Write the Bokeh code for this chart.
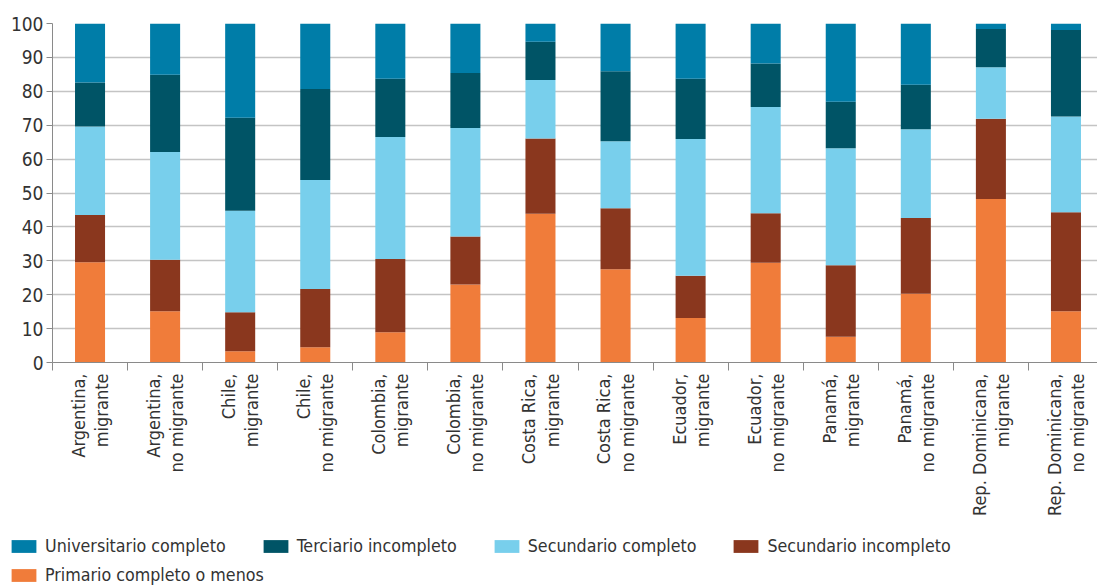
import math
from bokeh.plotting import figure
from bokeh.layouts import column, row
from bokeh.models import ColumnDataSource, FixedTicker, Legend, LegendItem, Range1d
from bokeh.embed import file_html
from bokeh.resources import INLINE

categories = [
    "Argentina,\nmigrante", "Argentina,\nno migrante",
    "Chile,\nmigrante", "Chile,\nno migrante",
    "Colombia,\nmigrante", "Colombia,\nno migrante",
    "Costa Rica,\nmigrante", "Costa Rica,\nno migrante",
    "Ecuador,\nmigrante", "Ecuador,\nno migrante",
    "Panamá,\nmigrante", "Panamá,\nno migrante",
    "Rep. Dominicana,\nmigrante", "Rep. Dominicana,\nno migrante",
]

primario = [29.6, 15.1, 3.3, 4.5, 8.9, 23.0, 43.9, 27.5, 13.1, 29.4, 7.6, 20.3, 48.2, 15.1]
secundario_incompleto = [13.9, 15.2, 11.5, 17.2, 21.6, 14.2, 22.2, 18.0, 12.5, 14.6, 21.1, 22.3, 23.7, 29.2]
secundario_completo = [26.1, 31.8, 30.0, 32.1, 36.0, 32.0, 17.2, 19.8, 40.3, 31.4, 34.5, 26.2, 15.2, 28.3]
terciario_incompleto = [13.0, 22.8, 27.4, 26.9, 17.2, 16.2, 11.3, 20.6, 17.8, 12.8, 13.7, 13.1, 11.3, 25.5]
universitario = [17.4, 15.1, 27.8, 19.3, 16.3, 14.6, 5.4, 14.1, 16.3, 11.8, 23.1, 18.1, 1.6, 1.9]

series_names = ["Primario completo o menos", "Secundario incompleto", "Secundario completo",
                "Terciario incompleto", "Universitario completo"]
series_keys = ["prim", "secinc", "seccom", "terinc", "univ"]
colors = ["#F07C3A", "#8A371E", "#78CFEC", "#005466", "#007DA8"]

FONT = "DejaVu Sans Condensed"
TEXT = "#333333"

xpos = [i + 0.5 for i in range(len(categories))]
source = ColumnDataSource(dict(x=xpos, prim=primario, secinc=secundario_incompleto,
                               seccom=secundario_completo, terinc=terciario_incompleto,
                               univ=universitario))

W = 1097
p = figure(width=W, height=525, output_backend="svg", toolbar_location=None,
           x_range=Range1d(0, 13.92), y_range=Range1d(0, 100),
           min_border_left=52, min_border_right=0, min_border_top=23, min_border_bottom=163)
p.outline_line_color = None

renderers = p.vbar_stack(series_keys, x="x", width=0.4, color=colors, line_color=None, source=source)

# y axis
p.yaxis.ticker = FixedTicker(ticks=list(range(0, 101, 10)))
p.yaxis.major_label_text_font = FONT
p.yaxis.major_label_text_font_size = "19px"
p.yaxis.major_label_text_color = TEXT
p.yaxis.axis_line_color = "#8a8a8a"
p.yaxis.major_tick_line_color = "#8a8a8a"
p.yaxis.major_tick_out = 6
p.yaxis.major_tick_in = 0
p.yaxis.minor_tick_line_color = None
p.yaxis.major_label_standoff = 3

# x axis
p.xaxis.ticker = FixedTicker(ticks=xpos, minor_ticks=list(range(0, 15)))
p.xaxis.major_label_overrides = {x: c for x, c in zip(xpos, categories)}
p.xaxis.major_label_orientation = math.pi / 2
p.xaxis.major_label_text_font = FONT
p.xaxis.major_label_text_font_size = "18px"
p.xaxis.major_label_text_color = TEXT
p.xaxis.major_label_text_line_height = 1.1
p.xaxis.axis_line_color = "#8a8a8a"
p.xaxis.major_tick_line_color = None
p.xaxis.major_tick_out = 8
p.xaxis.major_tick_in = 0
p.xaxis.minor_tick_line_color = "#8a8a8a"
p.xaxis.minor_tick_out = 8
p.xaxis.minor_tick_in = 0
p.xaxis.major_label_standoff = 3

p.xgrid.grid_line_color = None
p.ygrid.grid_line_color = "#c4c4c4"
p.ygrid.grid_line_width = 1.5

# legend figure
p2 = figure(width=W, height=61, output_backend="svg", toolbar_location=None,
            x_range=Range1d(0, 1), y_range=Range1d(0, 1),
            x_axis_location=None, y_axis_location=None,
            min_border_left=0, min_border_right=0, min_border_top=0, min_border_bottom=0)
p2.outline_line_color = None
p2.grid.grid_line_color = None
offscreen = ColumnDataSource(dict(x=[-100.0], top=[0.0]))
dummies = [p2.vbar(x="x", top="top", width=0.1, color=c, line_color=None, source=offscreen) for c in colors]

def make_legend(items, loc):
    lg = Legend(items=items, orientation="horizontal", location=loc)
    lg.label_text_font = FONT
    lg.label_text_font_size = "17.7px"
    lg.label_text_color = TEXT
    lg.glyph_width = 31
    lg.glyph_height = 16
    lg.label_standoff = 6
    lg.spacing = 34
    lg.padding = 0
    lg.margin = 0
    lg.border_line_color = None
    lg.background_fill_alpha = 0
    lg.label_height = 16
    return lg

leg1 = make_legend([LegendItem(label=series_names[i], renderers=[dummies[i]]) for i in [4, 3, 2, 1]], (8, 30))
leg2 = make_legend([LegendItem(label=series_names[0], renderers=[dummies[0]])], (8, 1))
p2.add_layout(leg1)
p2.add_layout(leg2)

layout = column(p, row(p2, spacing=0), spacing=0)
open("out.html", "w").write(file_html(layout, INLINE))
